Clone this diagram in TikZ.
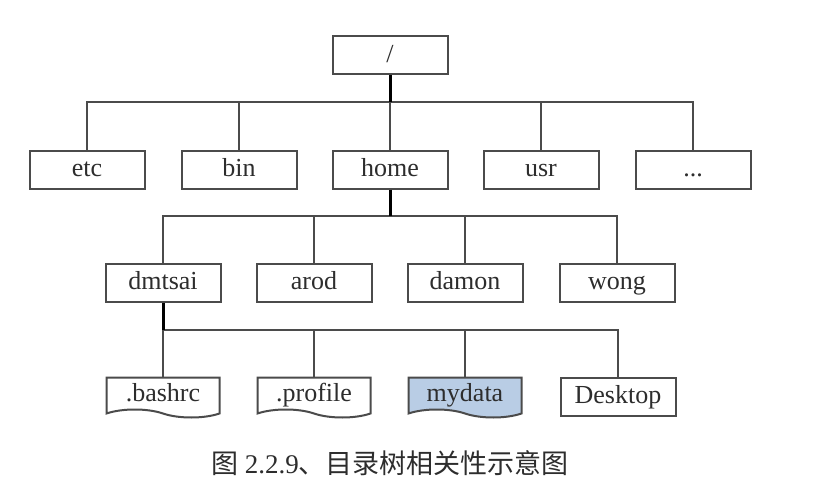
\documentclass[tikz,border=0pt]{standalone}
\usepackage{fontspec}
\setmainfont{Liberation Serif}
\newfontfamily\cjk{Noto Sans CJK SC}
\usetikzlibrary{shapes.symbols}
\definecolor{DtInk}{RGB}{45,45,45}
\definecolor{DtLine}{RGB}{75,75,75}
\definecolor{DtBlue}{RGB}{185,205,229}
\tikzset{
  dt/box/.style={
    draw=DtLine,
    line width=1pt,
    fill=white,
    text=DtInk,
    minimum width=57.5pt,
    minimum height=19pt,
    inner sep=0pt,
    text height=9.5pt,
    text depth=2.5pt,
    font=\fontsize{13}{15}\selectfont
  },
  dt/file/.style={
    tape,
    tape bend top=none,
    tape bend bottom=out and in,
    tape bend height=4pt,
    draw=DtLine,
    line width=1pt,
    fill=white,
    text=DtInk,
    minimum width=56.5pt,
    minimum height=20pt,
    inner sep=0pt,
    text height=10pt,
    text depth=2.5pt,
    font=\fontsize{13}{15}\selectfont
  },
  dt/link/.style={draw=DtLine, line width=1pt},
  dt/trunk/.style={draw=black, line width=1.5pt},
  dt/caption/.style={text=DtInk, font=\fontsize{13.5}{16}\selectfont}
}
\begin{document}
\begin{tikzpicture}[x=0.5pt,y=-0.5pt]
  \useasboundingbox (0,0) rectangle (815,487);
  % root and top level
  \node[dt/box] (root) at (390,55) {/};
  \foreach \name/\x in {etc/87,bin/239,home/390,usr/541}
  {\node[dt/box] (\name) at (\x,169.5) {\name};}
  \node[dt/box] (more) at (693,169.5) {...};
  % home directories
  \foreach \name/\x in {dmtsai/163,arod/314,damon/465,wong/617}
  {\node[dt/box] (\name) at (\x,282.5) {\name};}
  % contents of dmtsai
  \node[dt/file] (bashrc) at (163,393.5) {.bashrc};
  \node[dt/file] (profile) at (314,393.5) {.profile};
  \node[dt/file,fill=DtBlue] (mydata) at (465,393.5) {mydata};
  \node[dt/box] (desktop) at (618,396.5) {Desktop};
  % junctions
  \coordinate (j1) at (390,102);
  \coordinate (j2) at (390,216);
  \coordinate (j3) at (163,330);
  \foreach \c in {etc,bin,home,usr,more} {\draw[dt/link] (j1) -| (\c.north);}
  \foreach \c in {dmtsai,arod,damon,wong} {\draw[dt/link] (j2) -| (\c.north);}
  \foreach \c in {bashrc,profile,mydata,desktop} {\draw[dt/link] (j3) -| (\c.north);}
  \draw[dt/trunk] (root.south) -- (j1);
  \draw[dt/trunk] (home.south) -- (j2);
  \draw[dt/trunk] (dmtsai.south) -- (j3);
  \node[dt/caption] (cap) at (390,463) {{\cjk 图} 2.2.9{\cjk 、目录树相关性示意图}};
\end{tikzpicture}
\end{document}
